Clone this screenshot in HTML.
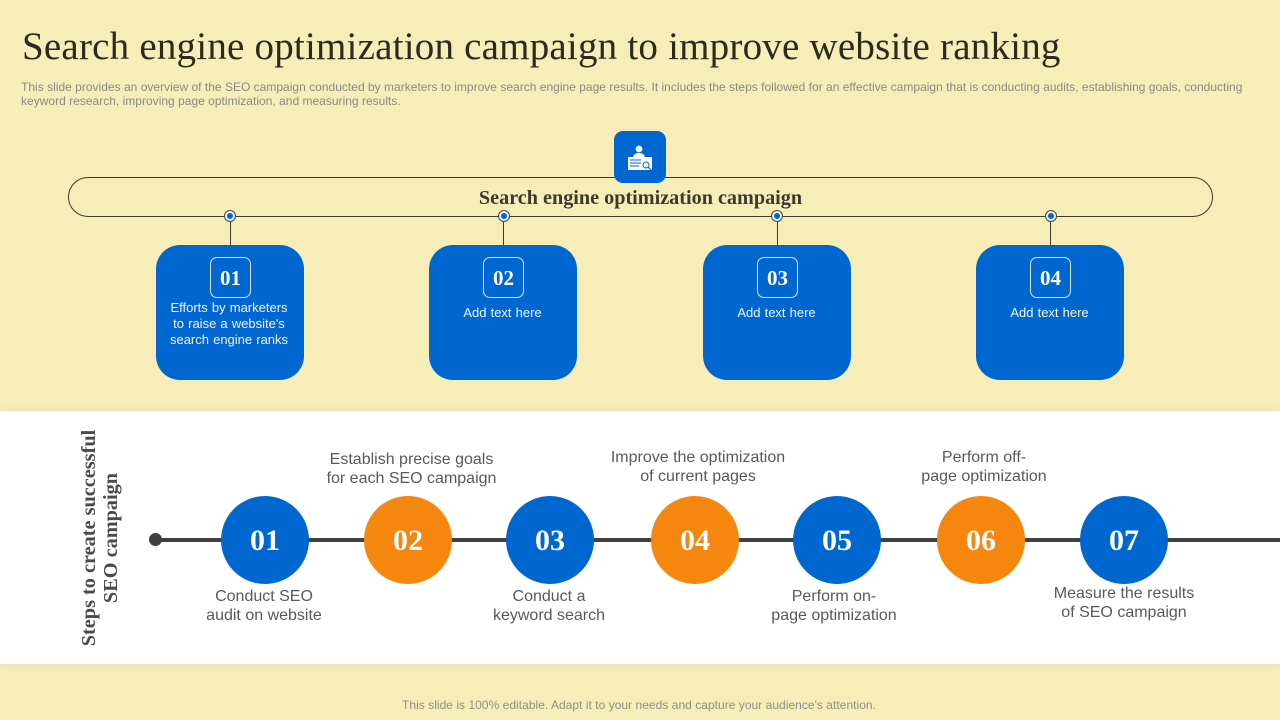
<!DOCTYPE html>
<html lang="en">
<head>
<meta charset="utf-8">
<title>SEO campaign slide</title>
<style>
html,body{margin:0;padding:0}
body{width:1280px;height:720px;overflow:hidden;position:relative;background:#f6edb9;font-family:"Liberation Sans",sans-serif}
.a{position:absolute;white-space:nowrap}
.serif{font-family:"Liberation Serif",serif}
.ctr{text-align:center;transform:translateX(-50%)}
.card{position:absolute;top:245px;width:148px;height:135px;background:#0066d0;border-radius:24px}
.badge{position:absolute;top:257px;width:39px;height:39px;border:1px solid #d8e8fa;border-radius:7px;color:#fff;font:bold 21px/41px "Liberation Serif",serif;text-align:center}
.ct{position:absolute;color:#f2f6fc;font-size:13px;line-height:16px;word-spacing:.5px;text-align:center;white-space:nowrap;transform:translateX(-50%)}
.dot{position:absolute;top:211px;width:6px;height:6px;border-radius:50%;background:#0066d0;border:2px solid #e9f0f5;box-shadow:0 0 0 1px #4a4a40}
.stem{position:absolute;top:222px;width:1px;height:23px;background:#3d3a2c}
.step{position:absolute;top:496px;width:88px;height:88px;border-radius:50%;color:#fff;font:bold 30px/90px "Liberation Serif",serif;text-align:center}
.blue{background:#0066d0}.orange{background:#f5870f}
.lbl{position:absolute;color:#595959;font-size:16px;line-height:19px;text-align:center;white-space:nowrap;transform:translateX(-50%)}
</style>
</head>
<body>
<div class="a serif" style="left:22px;top:24px;font-size:39px;line-height:46px;color:#2b2a1c;letter-spacing:.21px">Search engine optimization campaign to improve website ranking</div>
<div class="a" style="left:21px;top:80px;font-size:12px;line-height:14px;letter-spacing:.013px;color:#8a8a80">This slide provides an overview of the SEO campaign conducted by marketers to improve search engine page results. It includes the steps followed for an effective campaign that is conducting audits, establishing goals, conducting<br>keyword research, improving page optimization, and measuring results.</div>

<div class="a" style="left:68px;top:177px;width:1143px;height:38px;border:1px solid #3d3a2c;border-radius:20px"></div>
<div class="a serif ctr" style="left:640.5px;top:186px;font-size:20.2px;line-height:24px;font-weight:bold;color:#3b3a2c">Search engine optimization campaign</div>

<div class="a" style="left:614px;top:131px;width:52px;height:52px;background:#0066d0;border-radius:9px">
<svg width="52" height="52" viewBox="0 0 52 52">
<circle cx="25" cy="18" r="3.4" fill="#fff"/>
<path d="M19 27c0-3 2-5 6-5s6 2 6 5z" fill="#fff"/>
<rect x="14" y="26" width="24" height="13" fill="#fff"/>
<path d="M16 29h11M16 32h11M16 35h9" stroke="#0066d0" stroke-width="1"/>
<circle cx="32" cy="34" r="3" fill="#fff" stroke="#0066d0" stroke-width="1"/>
<path d="M34 36l3 3" stroke="#0066d0" stroke-width="1.2"/>
</svg>
</div>

<div class="dot" style="left:225px"></div>
<div class="dot" style="left:499px"></div>
<div class="dot" style="left:772px"></div>
<div class="dot" style="left:1046px"></div>
<div class="stem" style="left:230px"></div>
<div class="stem" style="left:503px"></div>
<div class="stem" style="left:777px"></div>
<div class="stem" style="left:1050px"></div>

<div class="card" style="left:156px"></div>
<div class="card" style="left:429px"></div>
<div class="card" style="left:703px"></div>
<div class="card" style="left:976px"></div>
<div class="badge" style="left:210px">01</div>
<div class="badge" style="left:483px">02</div>
<div class="badge" style="left:757px">03</div>
<div class="badge" style="left:1030px">04</div>
<div class="ct" style="left:229px;top:300px">Efforts by marketers<br>to raise a website's<br>search engine ranks</div>
<div class="ct" style="left:502.5px;top:305px">Add text here</div>
<div class="ct" style="left:776.5px;top:305px">Add text here</div>
<div class="ct" style="left:1049.5px;top:305px">Add text here</div>

<div class="a" style="left:0;top:411px;width:1280px;height:253px;background:#fff;box-shadow:0 0 6px rgba(200,200,190,.5)"></div>
<div class="a serif" style="left:100px;top:538px;font-size:20.3px;line-height:22px;font-weight:bold;color:#4a4a4a;text-align:center;transform:translate(-50%,-50%) rotate(-90deg)">Steps to create successful<br>SEO campaign</div>

<div class="a" style="left:155px;top:538px;width:1125px;height:4px;background:#404040"></div>
<div class="a" style="left:149px;top:533px;width:13px;height:13px;border-radius:50%;background:#404040"></div>

<div class="step blue" style="left:221px">01</div>
<div class="step orange" style="left:364px">02</div>
<div class="step blue" style="left:506px">03</div>
<div class="step orange" style="left:651px">04</div>
<div class="step blue" style="left:793px">05</div>
<div class="step orange" style="left:937px">06</div>
<div class="step blue" style="left:1080px">07</div>

<div class="lbl" style="left:264px;top:587px">Conduct SEO<br>audit on website</div>
<div class="lbl" style="left:411.5px;top:450px">Establish precise goals<br>for each SEO campaign</div>
<div class="lbl" style="left:549px;top:587px">Conduct a<br>keyword search</div>
<div class="lbl" style="left:698px;top:448px">Improve the optimization<br>of current pages</div>
<div class="lbl" style="left:834px;top:587px">Perform on-<br>page optimization</div>
<div class="lbl" style="left:984px;top:448px">Perform off-<br>page optimization</div>
<div class="lbl" style="left:1124px;top:584px">Measure the results<br>of SEO campaign</div>

<div class="a ctr" style="left:639px;top:698px;font-size:12px;line-height:15px;letter-spacing:.03px;color:#8f8f85">This slide is 100% editable. Adapt it to your needs and capture your audience's attention.</div>
</body>
</html>
